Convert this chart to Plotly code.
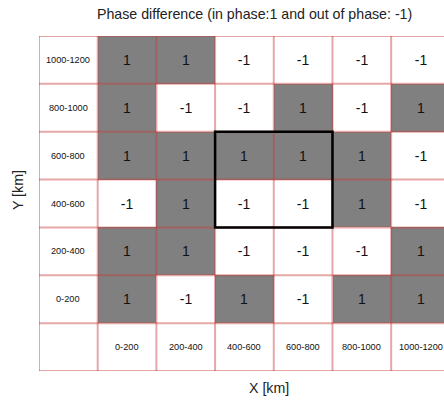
import plotly.graph_objects as go

x_labels = ["0-200", "200-400", "400-600", "600-800", "800-1000", "1000-1200"]
y_labels = ["0-200", "200-400", "400-600", "600-800", "800-1000", "1000-1200"]
# phase values, rows bottom (0-200) to top (1000-1200), columns as x_labels
phase = [
    [1, -1, 1, -1, 1, 1],
    [1, 1, -1, -1, -1, 1],
    [-1, 1, -1, -1, 1, -1],
    [1, 1, 1, 1, 1, -1],
    [1, -1, -1, 1, -1, 1],
    [1, 1, -1, -1, -1, -1],
]
highlight_x = ["400-600", "600-800"]
highlight_y = ["400-600", "600-800"]

ncols = len(x_labels) + 1
nrows = len(y_labels) + 1

# grid including label row (index 0) and label column (index 0)
z = [[0] * ncols]
text = [[""] * ncols]
for r, row in enumerate(phase):
    z.append([0] + row)
    text.append([""] + [str(v) for v in row])

gray = "#808080"
fig = go.Figure(go.Heatmap(
    z=z, x=list(range(ncols)), y=list(range(nrows)),
    text=text, texttemplate="%{text}",
    textfont=dict(size=14, color="#111111", family="Liberation Sans, Arial"),
    colorscale=[[0, "white"], [0.6, "white"], [0.6, gray], [1, gray]],
    zmin=-1, zmax=1, showscale=False, hoverinfo="skip",
))

annotations = []
lab_font = dict(size=9.2, color="#111111", family="Liberation Sans, Arial")
for i, lab in enumerate(y_labels):
    annotations.append(dict(x=0, y=i + 1, xref="x", yref="y", text=lab,
                            showarrow=False, font=lab_font))
for j, lab in enumerate(x_labels):
    annotations.append(dict(x=j + 1, y=0, xref="x", yref="y", text=lab,
                            showarrow=False, font=lab_font))

shapes = []
line_col = "rgba(200,60,60,0.45)"
for k in range(ncols + 1):
    shapes.append(dict(type="line", xref="x", yref="y", x0=k - 0.5, x1=k - 0.5,
                       y0=-0.5, y1=nrows - 0.5, line=dict(color=line_col, width=2)))
for k in range(nrows + 1):
    shapes.append(dict(type="line", xref="x", yref="y", x0=-0.5, x1=ncols - 0.5,
                       y0=k - 0.5, y1=k - 0.5, line=dict(color=line_col, width=2)))

hx = [x_labels.index(v) + 1 for v in highlight_x]
hy = [y_labels.index(v) + 1 for v in highlight_y]
shapes.append(dict(type="rect", xref="x", yref="y",
                   x0=min(hx) - 0.5, x1=max(hx) + 0.5,
                   y0=min(hy) - 0.5, y1=max(hy) + 0.5,
                   line=dict(color="black", width=2.5)))

title_font = dict(size=14.2, color="#222222", family="Liberation Sans, Arial")
annotations.append(dict(x=0.531, y=1.066, xref="paper", yref="paper",
                        text="Phase difference (in phase:1 and out of phase: -1)",
                        showarrow=False, yanchor="middle", font=title_font))
annotations.append(dict(x=0.568, y=-0.051, xref="paper", yref="paper",
                        text="X [km]", showarrow=False, yanchor="middle",
                        font=title_font))
annotations.append(dict(x=-0.052, y=0.54, xref="paper", yref="paper",
                        text="Y [km]", showarrow=False, textangle=-90,
                        xanchor="center", yanchor="middle", font=title_font))

fig.update_layout(
    width=444, height=400,
    margin=dict(l=39, r=0, t=36, b=29),
    paper_bgcolor="white", plot_bgcolor="white",
    xaxis=dict(range=[-0.5, 6.4], visible=False, fixedrange=True),
    yaxis=dict(range=[-0.5, 6.5], visible=False, fixedrange=True),
    shapes=shapes, annotations=annotations, showlegend=False,
)
fig.write_html(
    "out.html",
    config={"displayModeBar": False},
    post_script="document.body.style.margin='0';document.body.style.overflow='hidden';",
)
